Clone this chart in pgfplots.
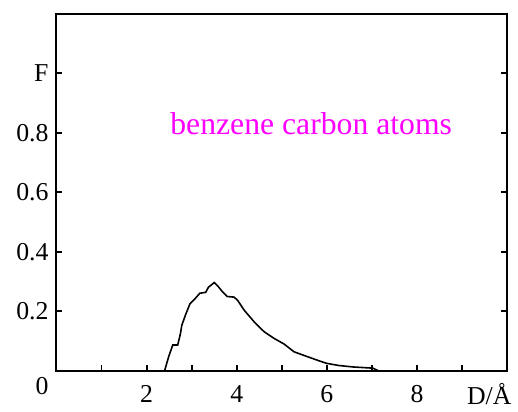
\documentclass[border=0pt]{standalone}
\usepackage{pgfplots}
\pgfplotsset{compat=1.18}
\usepackage{fontspec}
\setmainfont{Liberation Serif}
\definecolor{puremagenta}{rgb}{1,0,1}
\begin{document}
\begin{tikzpicture}[x=1pt,y=1pt]
\begin{axis}[
  scale only axis,
  width=227.5pt, height=180pt,
  xmin=0, xmax=10, ymin=0, ymax=1.2,
  xtick={1,2,...,9},
  xticklabels={,2,,4,,6,,8,},
  ytick={0.2,0.4,0.6,0.8,1.0},
  yticklabels={0.2,0.4,0.6,0.8,F},
  xtick pos=lower, ytick pos=both,
  tick align=inside,
  major tick length=3pt,
  axis line style={line width=1pt},
  tick style={line width=0.9pt, black},
  /pgf/number format/assume math mode=true,
  tick label style={font=\fontsize{13}{15}\selectfont},
  xticklabel style={yshift=-4pt},
  yticklabel style={xshift=-0.5pt},
  clip=false,
]
\addplot[black, line width=0.8pt] coordinates {
  (2.40,0) (2.49,0.047) (2.58,0.086) (2.69,0.086) (2.75,0.124) (2.78,0.152)
  (2.86,0.186) (2.96,0.224) (3.07,0.241) (3.18,0.260) (3.31,0.263) (3.37,0.280)
  (3.50,0.296) (3.57,0.286) (3.66,0.269) (3.79,0.249) (3.94,0.247) (4.02,0.236)
  (4.17,0.202) (4.39,0.163) (4.61,0.130) (4.83,0.108) (5.05,0.089) (5.27,0.063)
  (5.56,0.047) (5.82,0.033) (6.00,0.024) (6.26,0.017) (6.58,0.012) (7.02,0.008)
  (7.13,0)
};
\node[puremagenta, font=\fontsize{16}{19}\selectfont] at (axis cs:5.65,0.83) {benzene carbon atoms};
\node[font=\fontsize{13}{15}\selectfont] at (axis cs:-0.32,-0.053) {0};
\node[font=\fontsize{13}{15}\selectfont] at (axis cs:9.6,-0.08) {D/Å};
\path (rel axis cs:0,0) ++(-28.5pt,-19pt) (rel axis cs:1,1) ++(3pt,7pt);
\end{axis}
\end{tikzpicture}
\end{document}
